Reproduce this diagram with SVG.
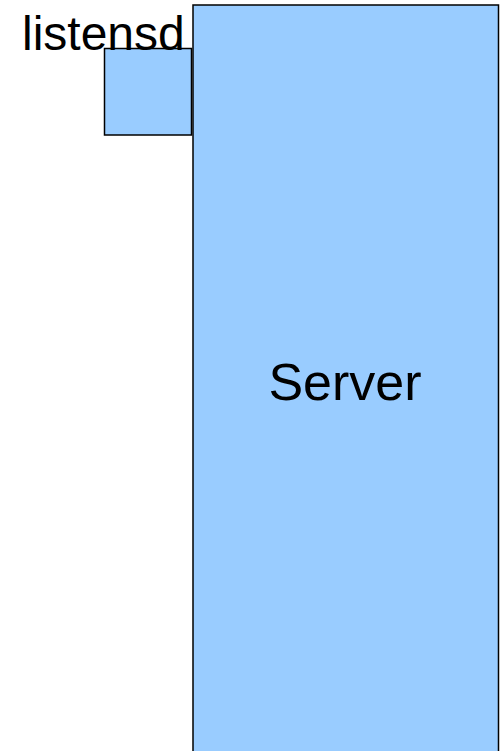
<svg xmlns="http://www.w3.org/2000/svg" width="502" height="751" viewBox="0 0 502 751">
  <style>
    .box { fill: #99ccff; stroke: #000000; stroke-width: 1.5; }
    .label { font-family: "Liberation Sans", Arial, sans-serif; fill: #000000; }
  </style>
  <rect x="0" y="0" width="502" height="751" fill="#ffffff"/>
  <g id="server">
    <rect class="box" x="193" y="5" width="305.5" height="760"/>
    <text class="label" x="345" y="400" font-size="52" text-anchor="middle">Server</text>
  </g>
  <g id="listensd">
    <rect class="box" x="104.5" y="48.5" width="87" height="86.5"/>
    <text class="label" x="22" y="49.5" font-size="48">listensd</text>
  </g>
  <g id="connectors"/>
</svg>
